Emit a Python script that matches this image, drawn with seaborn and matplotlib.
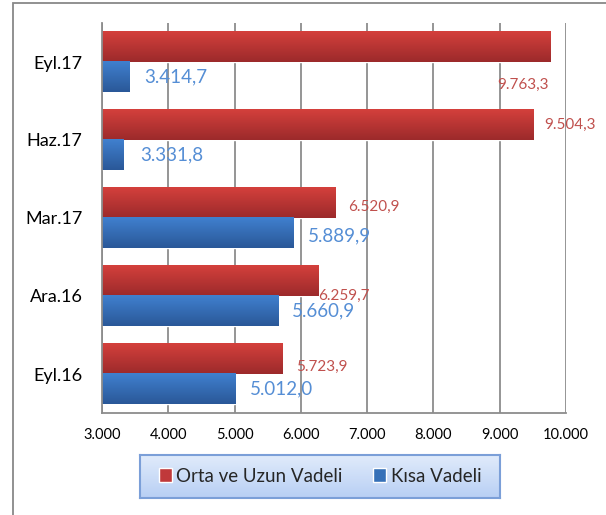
import numpy as np
import pandas as pd
import matplotlib.pyplot as plt
import seaborn as sns
from matplotlib.colors import LinearSegmentedColormap, to_rgb
from matplotlib.patches import Rectangle, Patch
from matplotlib.ticker import FuncFormatter, FixedLocator

# Data (million) - top to bottom as shown
periods = ['Eyl.17', 'Haz.17', 'Mar.17', 'Ara.16', 'Eyl.16']
long_term = [9763.3, 9504.3, 6520.9, 6259.7, 5723.9]
short_term = [3414.7, 3331.8, 5889.9, 5660.9, 5012.0]
series = ['Orta ve Uzun Vadeli', 'Kısa Vadeli']

data = pd.DataFrame({
    'Dönem': periods * 2,
    'Değer': long_term + short_term,
    'Seri': [series[0]] * len(periods) + [series[1]] * len(periods),
})

sns.set_style('white')
plt.rcParams['font.family'] = ['Lato', 'DejaVu Sans']

red = '#c0393a'
blue = '#3570b8'
grads = {red: ('#d4403c', '#9c2a2b'), blue: ('#4080cf', '#2a5898')}
xmin, xmax = 3000, 10000

fig = plt.figure(figsize=(6.06, 5.15), dpi=100)
ax = fig.add_axes([102 / 606, 1 - 413 / 515, 464 / 606, 390 / 515])

sns.barplot(data=data, x='Değer', y='Dönem', hue='Seri', order=periods,
            hue_order=series, palette=[red, blue], orient='h', width=0.77,
            ax=ax, legend=False, saturation=1)

n = len(periods)

# gradient fill on bars (drawn only inside the visible range)
grad = np.linspace(0, 1, 64).reshape(-1, 1)
for bar in list(ax.patches):
    fc = bar.get_facecolor()
    key = red if np.allclose(fc[:3], to_rgb(red)) else blue
    cmap = LinearSegmentedColormap.from_list('g', grads[key])
    x0, y0 = max(bar.get_x(), xmin), bar.get_y()
    x1, h = bar.get_x() + bar.get_width(), bar.get_height()
    ax.imshow(grad, extent=(x0, x1, y0 + h, y0), cmap=cmap,
              aspect='auto', zorder=bar.get_zorder() + 0.1, origin='upper')
ax.set_xlim(xmin, xmax)
ax.set_ylim(n - 0.5, -0.5)

# value labels: (dx px, dy px) offsets from bar end
fmt = lambda v: f'{v:,.1f}'.replace(',', 'X').replace('.', ',').replace('X', '.')
red_offsets = [(-53, -38), (11, 0), (13, -4), (0, -15), (14, -8)]
blue_offsets = [(15, 0), (16, 0), (14, -3), (14, 0), (15, 0)]
for i, p in enumerate(periods):
    yr = i - 0.77 / 4
    yb = i + 0.77 / 4
    dx, dy = red_offsets[i]
    ax.annotate(fmt(long_term[i]), (long_term[i], yr), xytext=(dx * 0.72, dy * 0.72),
                textcoords='offset points', ha='left', va='center',
                color='#c0504d', fontsize=11)
    dx, dy = blue_offsets[i]
    ax.annotate(fmt(short_term[i]), (short_term[i], yb), xytext=(dx * 0.72, dy * 0.72),
                textcoords='offset points', ha='left', va='center',
                color='#558ed5', fontsize=13.5)

# axes styling
grid_c = '#8c8c8c'
ax.xaxis.set_major_locator(FixedLocator(np.arange(xmin, xmax + 1, 1000)))
ax.xaxis.set_major_formatter(FuncFormatter(lambda v, _: f'{int(v):,}'.replace(',', '.')))
ax.grid(axis='x', color=grid_c, linewidth=1.3)
ax.set_axisbelow(True)
ax.set_xlabel('')
ax.set_ylabel('')
for s in ['top', 'right']:
    ax.spines[s].set_visible(False)
for s in ['left', 'bottom']:
    ax.spines[s].set_color(grid_c)
    ax.spines[s].set_linewidth(1.3)
ax.tick_params(axis='x', direction='out', length=5, width=1.3, color=grid_c,
               labelsize=10.5, pad=6, labelcolor='black')
ax.yaxis.set_minor_locator(FixedLocator(np.arange(-0.5, n, 1)))
ax.tick_params(axis='y', which='major', length=0, labelsize=13, pad=14, labelcolor='black')
ax.tick_params(axis='y', which='minor', direction='out', length=10, width=1.3, color=grid_c)

# outer chart frame
fig.patches.append(Rectangle((13 / 606, -0.1), 1.2, 1.1 - 3 / 515, transform=fig.transFigure,
                             fill=False, edgecolor='#888888', linewidth=1.3))

# legend box with gradient
lax = fig.add_axes([140 / 606, 1 - 498 / 515, 360 / 606, 43 / 515])
lax.imshow(np.linspace(0, 1, 64).reshape(-1, 1), aspect='auto', extent=(0, 1, 0, 1),
           cmap=LinearSegmentedColormap.from_list('lg', ['#e0ebfb', '#b8cff4']))
lax.set_xticks([])
lax.set_yticks([])
for s in lax.spines.values():
    s.set_color('#7b9fd8')
    s.set_linewidth(1.5)
handles = [Patch(facecolor=red, label=series[0]), Patch(facecolor=blue, label=series[1])]
fig.legend(handles=handles, loc='center', bbox_to_anchor=(320 / 606, 1 - 476 / 515),
           ncol=2, frameon=False, fontsize=13.5, handlelength=0.7, handleheight=0.7,
           handletextpad=0.25, columnspacing=1.6)

fig.savefig('out.png', dpi=100)
